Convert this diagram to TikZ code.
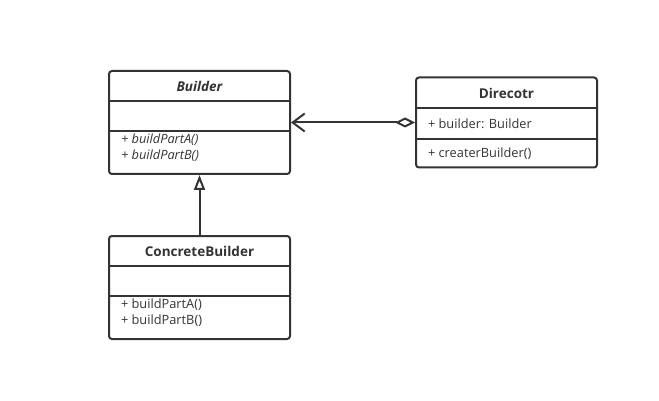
\documentclass[tikz,border=0pt]{standalone}
\usepackage{fontspec}
\setmainfont{Open Sans}
\usetikzlibrary{arrows.meta}
\begin{document}
\begin{tikzpicture}[x=1pt,y=-1pt,
  line width=2pt,
  every node/.style={inner sep=0pt},
  classbox/.style={draw=black!80, line width=2pt, rounded corners=3pt, minimum width=181pt},
  title/.style={font=\fontsize{13.5}{15}\selectfont\bfseries, text=black!80},
  ititle/.style={font=\fontsize{13.5}{15}\selectfont\bfseries\itshape, text=black!80},
  member/.style={font=\fontsize{12.8}{15}\selectfont, text=black!80, anchor=west},
  imember/.style={font=\fontsize{12.8}{15}\selectfont\itshape, text=black!80, anchor=west},
  divider/.style={draw=black!80, line width=2pt},
  conn/.style={draw=black!80, line width=2pt}]
\useasboundingbox (0,0) rectangle (659,401);
% Builder
\node[classbox, minimum height=103pt] (b) at (199.5,122.5) {};
\node[ititle] (bt) at (199.5,86) {Builder};
\coordinate (b1l) at (109,101); \coordinate (b1r) at (290,101);
\coordinate (b2l) at (109,131); \coordinate (b2r) at (290,131);
\draw[divider] (b1l) -- (b1r);
\draw[divider] (b2l) -- (b2r);
\node[imember] (bm1) at (120,140) {+ buildPartA()};
\node[imember] (bm2) at (120,156) {+ buildPartB()};
% Director
\node[classbox, minimum height=90pt] (d) at (506.5,122.5) {};
\node[title] (dt) at (506.5,93) {Direcotr};
\coordinate (d1l) at (416,108); \coordinate (d1r) at (597,108);
\coordinate (d2l) at (416,139); \coordinate (d2r) at (597,139);
\draw[divider] (d1l) -- (d1r);
\draw[divider] (d2l) -- (d2r);
\node[member] (dm1) at (427,124) {+ builder: Builder};
\node[member] (dm2) at (427,154) {+ createrBuilder()};
% ConcreteBuilder
\node[classbox, minimum height=103pt] (c) at (199.5,287.5) {};
\node[title] (ct) at (199.5,251) {ConcreteBuilder};
\coordinate (c1l) at (109,266); \coordinate (c1r) at (290,266);
\coordinate (c2l) at (109,296); \coordinate (c2r) at (290,296);
\draw[divider] (c1l) -- (c1r);
\draw[divider] (c2l) -- (c2r);
\node[member] (cm1) at (120,305) {+ buildPartA()};
\node[member] (cm2) at (120,321) {+ buildPartB()};
% connectors
\draw[conn, {Diamond[open,length=20pt,width=10pt]}-{Straight Barb[length=12pt,width=18pt]}] (d.west) -- (b.east);
\draw[conn, -{Triangle[open,length=15pt,width=11pt]}] (c.north) -- (b.south);
\end{tikzpicture}
\end{document}
